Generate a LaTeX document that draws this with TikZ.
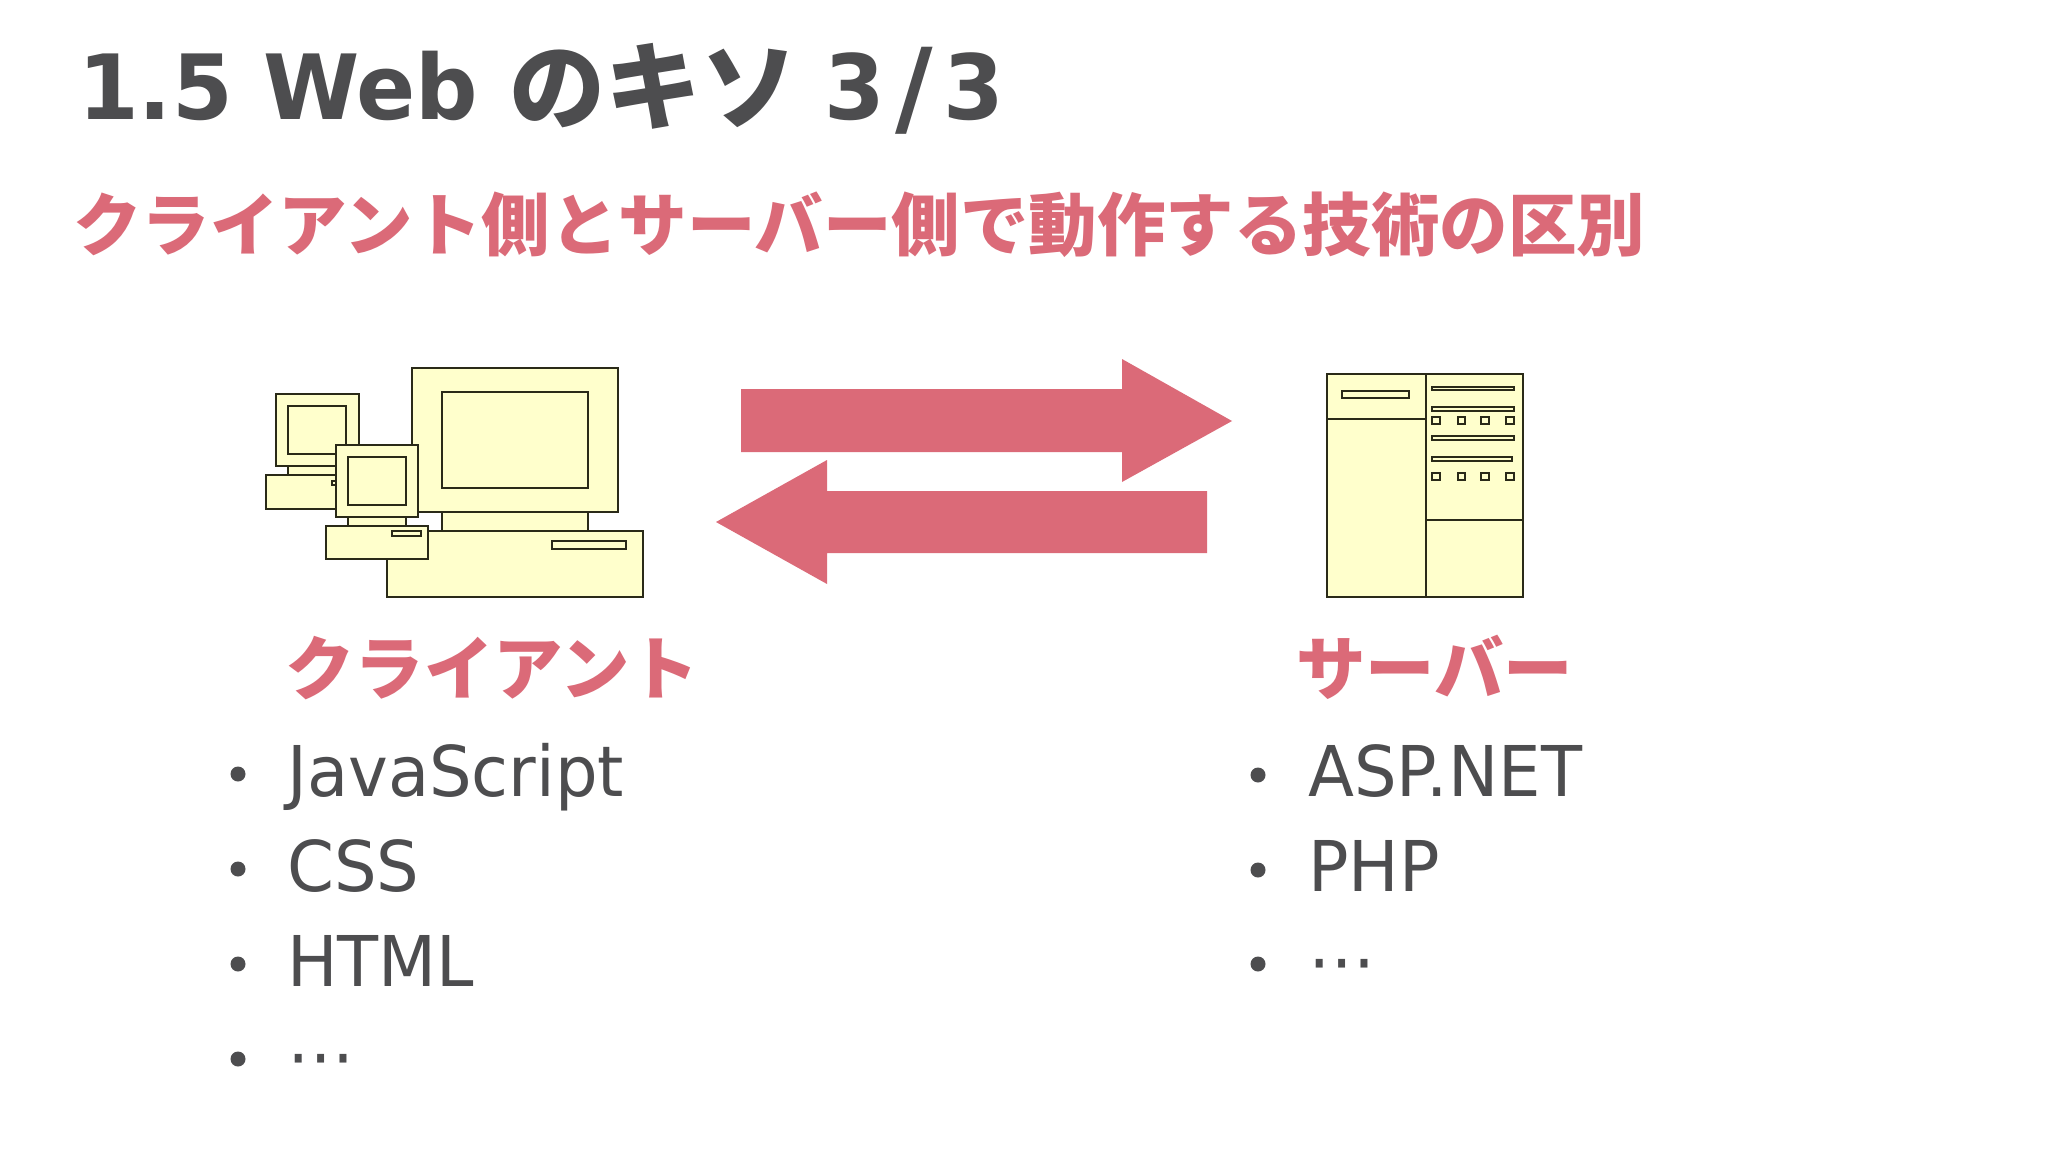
\documentclass[tikz,border=0pt]{standalone}
\usepackage{fontspec}
\setmainfont[FakeStretch=0.96]{DejaVu Sans}
\newfontfamily\ttl[FakeStretch=0.97]{DejaVu Sans}
\newfontfamily\cjk{Noto Sans CJK JP}
\definecolor{ink}{HTML}{4D4D4F}
\definecolor{rose}{HTML}{DB6A78}
\definecolor{cream}{HTML}{FFFFCC}
\definecolor{edge}{HTML}{2A2A18}
\tikzset{
 part/.style={draw=edge,fill=cream,line width=2pt,line join=miter},
 flow/.style={fill=rose,draw=none},
 txt/.style={inner sep=0pt,anchor=base west},
 body/.style={txt,text=ink,font=\fontsize{70}{70}\selectfont},
 dot/.style={circle,fill=ink,inner sep=0pt,minimum size=15pt},
 head/.style={txt,text=rose,font=\cjk\bfseries\fontsize{69.4}{70}\selectfont},
}
\begin{document}
\begin{tikzpicture}[x=1pt,y=-1pt]
\useasboundingbox (0,0) rectangle (2048,1153);
\fill[white] (0,0) rectangle (2048,1153);
% arrows
\fill[flow] (741,389) -- (1122,389) -- (1122,359) -- (1232,421) -- (1122,482) -- (1122,452) -- (741,452) -- cycle;
\fill[flow] (1207,491) -- (827,491) -- (827,460) -- (716,522) -- (827,584) -- (827,553) -- (1207,553) -- cycle;
% big client
\draw[part] (441.7,511.7) rectangle (588.3,531);
\draw[part] (411.7,368.3) rectangle (618.3,511.7);
\draw[part] (441.7,392.3) rectangle (588.3,487.7);
\draw[part] (387.3,531) rectangle (642.7,596.7);
\draw[part] (552.3,541.3) rectangle (625.7,549);
% back small client
\draw[part] (287.7,466.3) rectangle (346.3,475.3);
\draw[part] (276,394.3) rectangle (358.7,466.3);
\draw[part] (287.7,406.3) rectangle (346.3,454.3);
\draw[part] (266,475.3) rectangle (350,508.7);
\draw[part] (332,481) rectangle (338,485);
% front small client
\draw[part] (347.7,516.7) rectangle (406.3,526);
\draw[part] (335.7,445) rectangle (418.3,516.7);
\draw[part] (347.7,457) rectangle (406.3,505);
\draw[part] (326,526) rectangle (428,559.3);
\draw[part] (391.7,531.3) rectangle (421.3,535.7);
% server
\draw[part] (1327,374) rectangle (1523.3,596.7);
\draw[part] (1426.3,374) -- (1426.3,596.7);
\draw[part] (1327,419) -- (1426.3,419);
\draw[part] (1426.3,519.7) -- (1523.3,519.7);
\draw[part] (1342,391.3) rectangle (1409.3,398);
\draw[part] (1432.3,386.7) rectangle (1513.7,390.3);
\draw[part] (1432.3,407.3) rectangle (1513.7,411);
\draw[part] (1432.3,436.3) rectangle (1513.7,440);
\draw[part] (1432.3,457) rectangle (1512,460.7);
\foreach \yy in {417,473}{
 \foreach \xx in {1432.3,1457.7,1481.3,1506.3}{
  \draw[part] (\xx,\yy) rectangle ++(7.2,6.7);
 }
}
% texts
\node[txt,text=ink,font=\ttl\bfseries\fontsize{90}{90}\selectfont] (title) at (78,120) {1.5 Web{\kern1pt} \raisebox{-3pt}{\cjk\fontsize{96}{96}\selectfont のキソ}{\kern-3pt} 3\kern10pt\raisebox{-5pt}{\fontsize{106}{106}\selectfont /}\kern10pt 3};
\node[txt,text=rose,font=\cjk\bfseries\fontsize{68.5}{70}\selectfont] (sub) at (73,250) {クライアント側とサーバー側で動作する技術の区別};
\node[head] (hc) at (285,694) {クライアント};
\node[head] (hs) at (1296,694) {サーバー};
\node[dot] (c1) at (238,774) {};
\node[dot] (c2) at (238,869) {};
\node[dot] (c3) at (238,964) {};
\node[dot] (c4) at (238,1059) {};
\node[body] (t1) at (287,796) {JavaScript};
\node[body] (t2) at (287,891) {CSS};
\node[body] (t3) at (287,986) {HTML};
\node[body] (t4) at (287,1080) {⋯};
\node[dot] (s1) at (1258,775) {};
\node[dot] (s2) at (1258,870) {};
\node[dot] (s3) at (1258,964) {};
\node[body] (u1) at (1308,796) {ASP.NET};
\node[body] (u2) at (1308,891) {PHP};
\node[body] (u3) at (1308,985) {⋯};
\end{tikzpicture}
\end{document}
